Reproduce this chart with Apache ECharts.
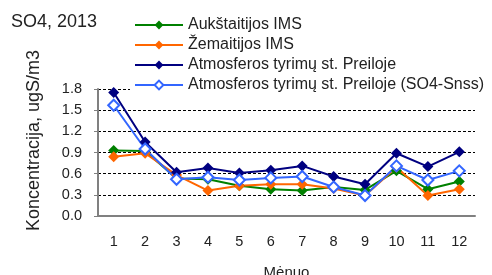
<!DOCTYPE html>
<html>
<head>
<meta charset="utf-8">
<script src="https://cdn.jsdelivr.net/npm/echarts@6/dist/echarts.min.js"></script>
<style>
html, body { margin: 0; padding: 0; background: #fff; }
#chart { width: 492px; height: 275px; }
</style>
</head>
<body>
<div id="chart"></div>
<script>
// Mėnesiai
const months = ['1', '2', '3', '4', '5', '6', '7', '8', '9', '10', '11', '12'];

// SO4 koncentracijos pagal stotis
const aukstaitija = [0.93, 0.92, 0.53, 0.52, 0.43, 0.38, 0.36, 0.41, 0.37, 0.64, 0.38, 0.49];
const zemaitija = [0.84, 0.89, 0.58, 0.36, 0.43, 0.45, 0.45, 0.39, 0.29, 0.69, 0.29, 0.38];
const preila = [1.75, 1.05, 0.62, 0.68, 0.61, 0.65, 0.71, 0.56, 0.45, 0.89, 0.70, 0.91];
const preilaSnss = [1.57, 0.95, 0.52, 0.55, 0.51, 0.54, 0.56, 0.41, 0.29, 0.71, 0.51, 0.64];

const seriesNames = [
    'Aukštaitijos IMS',
    'Žemaitijos IMS',
    'Atmosferos tyrimų st. Preiloje',
    'Atmosferos tyrimų st. Preiloje (SO4-Snss)'
];

const font = 'Liberation Sans, Arial, sans-serif';

function lineSeries(name, data, color, hollow) {
    return {
        name: name,
        type: 'line',
        data: data,
        symbol: 'diamond',
        symbolSize: 11,
        showSymbol: true,
        lineStyle: { color: color, width: 2 },
        itemStyle: {
            color: hollow ? '#fff' : color,
            borderColor: color,
            borderWidth: hollow ? 2 : 0
        },
        emphasis: { disabled: true }
    };
}

const chart = echarts.init(document.getElementById('chart'));

const option = {
    animation: false,
    title: {
        text: 'SO4, 2013',
        left: 6,
        top: 8,
        textStyle: { fontFamily: font, fontSize: 18, fontWeight: 'normal', color: '#222' }
    },
    legend: {
        orient: 'vertical',
        left: 130,
        top: 15,
        padding: [2, 4, 2, 4],
        itemGap: 4,
        itemWidth: 48,
        itemHeight: 11,
        backgroundColor: '#fff',
        data: seriesNames,
        textStyle: { fontFamily: font, fontSize: 16, color: '#222' }
    },
    grid: { left: 98, right: 17, top: 89, bottom: 59, outerBoundsMode: 'none' },
    xAxis: {
        type: 'category',
        data: months,
        boundaryGap: true,
        name: 'Mėnuo',
        nameLocation: 'middle',
        nameGap: 49,
        nameTextStyle: { fontFamily: font, fontSize: 15, color: '#222' },
        axisLine: { lineStyle: { color: '#808080', width: 2 } },
        axisTick: { alignWithLabel: false, length: 5, lineStyle: { color: '#808080' } },
        axisLabel: { fontFamily: font, fontSize: 14.5, color: '#222', margin: 18 },
        splitLine: { show: false }
    },
    yAxis: {
        type: 'value',
        min: 0,
        max: 1.8,
        interval: 0.3,
        name: 'Koncentracija, ugS/m3',
        nameLocation: 'middle',
        nameGap: 55,
        nameTextStyle: { fontFamily: font, fontSize: 18, color: '#222', padding: [0, 0, 0, 24] },
        axisLine: { show: true, lineStyle: { color: '#808080', width: 2 } },
        axisTick: { show: true, length: 4, lineStyle: { color: '#808080' } },
        axisLabel: {
            fontFamily: font, fontSize: 14.5, color: '#222', margin: 16,
            formatter: v => v.toFixed(1)
        },
        splitLine: { show: true, lineStyle: { color: '#000', type: [3, 2], width: 1 } }
    },
    series: [
        lineSeries(seriesNames[0], aukstaitija, '#008000', false),
        lineSeries(seriesNames[1], zemaitija, '#ff6600', false),
        lineSeries(seriesNames[2], preila, '#000080', false),
        lineSeries(seriesNames[3], preilaSnss, '#3366ff', true)
    ]
};

chart.setOption(option);
</script>
</body>
</html>
